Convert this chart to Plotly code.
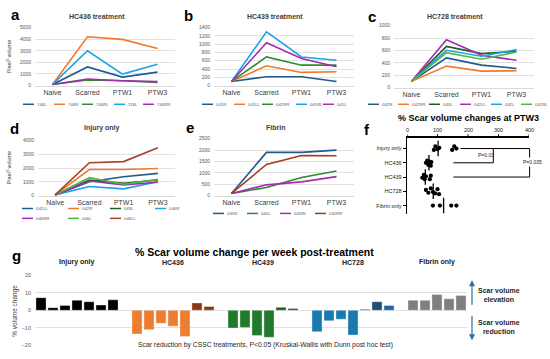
import plotly.graph_objects as go

W, H = 550, 359
def PX(x): return x / W
def PY(y): return 1 - y / H

FONT = "Liberation Sans, Arial, sans-serif"

stages = ["Naive", "Scarred", "PTW1", "PTW3"]

# ---- panel a: HC436 treatment
a_names = ["744L", "744R", "744RL", "118L", "744RR"]
a_744L = [100, 1610, 735, 1160]
a_744R = [100, 4210, 3980, 3190]
a_744RL = [100, 480, 420, 280]
a_118L = [100, 3000, 990, 1840]
a_744RR = [100, 565, 420, 340]

# ---- panel b: HC439 treatment
b_names = ["041R", "041LL", "041RR", "041RL", "041L"]
b_041R = [100, 215, 215, 100]
b_041LL = [100, 477, 318, 334]
b_041RR = [100, 692, 493, 493]
b_041RL = [100, 1297, 692, 612]
b_041L = [100, 1034, 652, 453]

# ---- panel c: HC728 treatment
c_names = ["042R", "042RR", "043L", "042LL", "042L", "042RL"]
c_042R = [100, 479, 362, 309]
c_042RR = [100, 346, 266, 271]
c_043L = [100, 665, 548, 585]
c_042LL = [100, 771, 521, 441]
c_042L = [100, 601, 505, 612]
c_042RL = [100, 564, 457, 574]

# ---- panel d: Injury only
d_names = ["042LL", "042R", "043L", "046R", "046RR", "046L", "046LL"]
d_042LL = [60, 1020, 1380, 1620]
d_042R = [60, 1900, 1900, 1980]
d_043L = [60, 1140, 900, 1140]
d_046R = [60, 670, 500, 1020]
d_046RR = [60, 1070, 790, 980]
d_046L = [60, 1310, 830, 1190]
d_046LL = [60, 2400, 2480, 3480]

# ---- panel e: Fibrin
e_names = ["045R", "045L", "045RL", "045RR"]
e_045R = [100, 1900, 1900, 2000]
e_045L = [100, 360, 795, 1080]
e_045RL = [100, 477, 607, 838]
e_045RR = [100, 1370, 1760, 1750]

# ---- panel f: % scar volume change at PTW3
f_groups = ["Injury only", "HC436", "HC439", "HC728", "Fibrin only"]
f_ticks = [0, 100, 200, 300, 400]
f_injury = [88, 93, 100, 106, 148, 155, 162]
f_hc436 = [62, 66, 70, 72, 75, 78, 80]
f_hc439 = [50, 55, 58, 62, 75, 78]
f_hc728 = [62, 70, 78, 85, 92, 100, 105]
f_fibrin = [85, 108, 145, 162]
f_medians = [102, 72, 60, 86, 120]
f_jit_injury = [0.1, -0.15, 0.05, -0.05, 0.1, -0.15, 0.0]
f_jit_hc436 = [0.0, -0.15, 0.15, -0.1, 0.1, 0.2, -0.05]
f_jit_hc439 = [0.05, -0.15, 0.15, -0.05, 0.15, -0.1]
f_jit_hc728 = [-0.1, 0.1, -0.2, 0.05, 0.15, -0.15, 0.2]
f_jit_fibrin = [0.0, 0.0, 0.0, 0.0]

# ---- panel g: % scar volume change per week post-treatment
g_groups = ["Injury only", "HC436", "HC439", "HC728", "Fibrin only"]
g_injury = [7.2, 1.5, 2.8, 5.7, 4.9, 3.0, 6.0]
g_hc436 = [-13.6, -11.1, -7.5, -9.1, -15.0, 4.2, 2.2]
g_hc439 = [-10.2, -9.8, -14.5, -15.5, 1.7, 1.0]
g_hc728 = [-12.3, -6.0, -5.1, -14.2, 0.6, 4.9, 2.8]
g_fibrin = [5.8, 5.7, 9.1, 6.6, 8.5]

# ---------------- styles ----------------
DB, OR, GR, LB, PU = "#215B8C", "#F07A2A", "#2E8B2E", "#1AA3E8", "#A62BB0"
DG, LG, BR, RB = "#1B5E20", "#4DB848", "#A5432A", "#A8381C"
GRID = "#D9D9D9"

fig = go.Figure()

panels = [
    ("", a_names, [a_744L, a_744R, a_744RL, a_118L, a_744RR], [DB, OR, GR, LB, PU], (35, 175), (84, 25), 5000, 1000),
    ("2", b_names, [b_041R, b_041LL, b_041RR, b_041RL, b_041L], [DB, OR, GR, LB, PU], (214, 354), (84, 25), 1400, 200),
    ("3", c_names, [c_042R, c_042RR, c_043L, c_042LL, c_042L, c_042RL], [DB, OR, DG, PU, LB, LG], (394, 534), (86, 23), 1000, 200),
    ("4", d_names, [d_042LL, d_042R, d_043L, d_046R, d_046RR, d_046L, d_046LL], [DB, OR, DG, LB, PU, LG, BR], (38, 175), (196, 140), 4000, 1000),
    ("5", e_names, [e_045R, e_045L, e_045RL, e_045RR], [DB, GR, PU, RB], (214, 354), (196, 138), 2500, 500),
]

layout_axes = {}
for n, names, series, cols, xd, yd, ymax, dt in panels:
    for nm, s, c in zip(names, series, cols):
        fig.add_trace(go.Scatter(x=stages, y=s, name=nm, mode="lines",
                                 line=dict(color=c, width=1.6),
                                 xaxis="x" + n, yaxis="y" + n, showlegend=False))
    layout_axes["xaxis" + n] = dict(domain=[PX(xd[0]), PX(xd[1])], type="category",
                                    categoryorder="array", categoryarray=stages, range=[-0.5, 3.5],
                                    showgrid=False, showline=True, linecolor=GRID, linewidth=1,
                                    ticks="", tickfont=dict(size=7, color="#404040"),
                                    anchor="y" + n, zeroline=False)
    layout_axes["yaxis" + n] = dict(domain=[PY(yd[0]), PY(yd[1])], range=[0, ymax], dtick=dt,
                                    showgrid=True, gridcolor=GRID, gridwidth=0.8, zeroline=False,
                                    showline=False, ticks="", tickfont=dict(size=5, color="#595959"),
                                    anchor="x" + n, ticklabelstandoff=3)

# ---- panel f
f_vals = [f_injury, f_hc436, f_hc439, f_hc728, f_fibrin]
f_jits = [f_jit_injury, f_jit_hc436, f_jit_hc439, f_jit_hc728, f_jit_fibrin]
for i, (vals, jit) in enumerate(zip(f_vals, f_jits)):
    fig.add_trace(go.Scatter(x=vals, y=[i + j for j in jit], mode="markers",
                             marker=dict(color="black", size=4.2),
                             xaxis="x6", yaxis="y6", showlegend=False))
fig.add_trace(go.Scatter(x=f_medians, y=list(range(len(f_groups))), mode="markers",
                         marker=dict(symbol="line-ns", size=11, line=dict(color="black", width=1.3)),
                         xaxis="x6", yaxis="y6", showlegend=False))
layout_axes["xaxis6"] = dict(domain=[PX(407), PX(529)], range=[0, 400], side="top",
                             anchor="y6", showline=True, linecolor="black", linewidth=1.3,
                             ticks="", showticklabels=False,
                             showgrid=False, zeroline=False)
layout_axes["yaxis6"] = dict(domain=[PY(215), PY(137)], range=[4.62, -0.76],
                             tickvals=list(range(len(f_groups))), ticktext=f_groups,
                             anchor="x6", showline=True, linecolor="black", linewidth=1.3,
                             ticks="outside", ticklen=3, tickwidth=1, tickcolor="black",
                             showgrid=False, zeroline=False, tickfont=dict(size=5.5, color="#222"))

# ---- panel g
g_vals = [g_injury, g_hc436, g_hc439, g_hc728, g_fibrin]
g_cols = [
    ["#000000"] * 7,
    ["#ED7D31"] * 5 + ["#8A3A12"] * 2,
    ["#1F7A2D"] * 4 + ["#1E5E20"] * 2,
    ["#1A7AB0"] * 4 + ["#2E6FA8", "#1F4E79", "#2463A0"],
    ["#7F7F7F"] * 5,
]
start = 0
g_centers = []
for vals, cols in zip(g_vals, g_cols):
    pos = list(range(start, start + len(vals)))
    fig.add_trace(go.Bar(x=pos, y=vals, marker=dict(color=cols, line=dict(color="rgba(255,255,255,0.45)", width=0.8)),
                         width=0.84, xaxis="x7", yaxis="y7", showlegend=False))
    g_centers.append((pos[0] + pos[-1]) / 2)
    start += len(vals) + 1
layout_axes["xaxis7"] = dict(domain=[PX(35), PX(467)], range=[-0.5, start - 1.5], anchor="y7",
                             showticklabels=False, showgrid=False, zeroline=False, showline=False, ticks="")
layout_axes["yaxis7"] = dict(domain=[PY(348), PY(277)], range=[-20, 20], dtick=10, anchor="x7",
                             showgrid=True, gridcolor=GRID, gridwidth=0.8, zeroline=False, showline=False,
                             ticks="", tickfont=dict(size=5.5, color="#595959"), ticklabelstandoff=3)

ann = []
shapes = []

def text(x, y, t, size, bold=False, color="#222", **kw):
    ann.append(dict(x=PX(x), y=PY(y), xref="paper", yref="paper", text=("<b>%s</b>" % t) if bold else t,
                    showarrow=False, font=dict(size=size, color=color, family=FONT),
                    xanchor=kw.pop("xanchor", "center"), yanchor=kw.pop("yanchor", "middle"), **kw))

# top axis ticks of panel f (placed through the x6 data scale)
for t in f_ticks:
    shapes.append(dict(type="line", xref="x6", yref="paper", x0=t, x1=t, y0=PY(137), y1=PY(133.5),
                       line=dict(color="black", width=1)))
    ann.append(dict(x=t, y=PY(129), xref="x6", yref="paper", text=str(t), showarrow=False,
                    font=dict(size=5.5, color="#222", family=FONT)))

for letter, x, y in [("a", 15, 12), ("b", 188, 13), ("c", 372, 14), ("d", 14, 128), ("e", 190, 127), ("f", 367, 129), ("g", 16, 257)]:
    text(x, y, letter, 15, bold=True, color="#000")

text(97, 14, "HC436 treatment", 7, bold=True, color="#404040")
text(275, 14, "HC439 treatment", 7, bold=True, color="#404040")
text(455, 14, "HC728 treatment", 7, bold=True, color="#404040")
text(102, 127, "Injury only", 7, bold=True, color="#404040")
text(275, 127, "Fibrin", 7, bold=True, color="#404040")
text(468, 117, "% Scar volume changes at PTW3", 9, bold=True, color="#000")
text(254, 253, "% Scar volume change per week post-treatment", 10.5, bold=True, color="#000")

text(9, 55, "Pixel<sup>3</sup> volume", 5.5, color="#404040", textangle=-90)
text(9, 168, "Pixel<sup>3</sup> volume", 5.5, color="#404040", textangle=-90)
text(15, 313, "% volume change", 6.5, color="#404040", textangle=-90)

def legend(names, cols, xs, y):
    for nm, c, x in zip(names, cols, xs):
        shapes.append(dict(type="line", xref="paper", yref="paper", x0=PX(x), x1=PX(x + 11),
                           y0=PY(y), y1=PY(y), line=dict(color=c, width=1.5)))
        text(x + 12, y, nm, 4.3, color="#595959", xanchor="left")

legend(a_names, panels[0][3], [23, 54, 82, 114, 143], 103)
legend(b_names, panels[1][3], [202, 234, 262, 296, 323], 103)
legend(c_names, panels[2][3], [368, 398, 429, 460, 491, 521], 103)
legend(d_names[:4], panels[3][3][:4], [22, 68, 110, 155], 209)
legend(d_names[4:], panels[3][3][4:], [22, 68, 110], 219)
legend(e_names, panels[4][3], [213, 247, 280, 315], 214)

def fx(v): return 407 + v * 122 / 400
def fy(i): return 148 + 14.5 * i
bk = dict(type="line", xref="paper", yref="paper", line=dict(color="black", width=1))
def seg(x0, y0, x1, y1):
    shapes.append(dict(bk, x0=PX(x0), y0=PY(y0), x1=PX(x1), y1=PY(y1)))
seg(fx(175), fy(0), fx(283), fy(0)); seg(fx(283), fy(0), fx(283), fy(1)); seg(fx(152), fy(1), fx(283), fy(1))
seg(fx(241), fy(0), fx(402), fy(0)); seg(fx(402), fy(0), fx(402), fy(2)); seg(fx(152), fy(2), fx(402), fy(2))
text(fx(259), 155, "P=0.03", 5, color="#222")
text(532, 162, "P=0.035", 5, color="#222", bgcolor="white")

for g, c in zip(g_groups, g_centers):
    ann.append(dict(x=c, y=PY(270), xref="x7", yref="paper", text="<b>%s</b>" % g, showarrow=False,
                    font=dict(size=7, color="#222", family=FONT)))
text(265, 348, "Scar reduction by CSSC treatments, P<0.05 (Kruskal-Wallis with Dunn post hoc test)", 6.8,
     color="#262626", bgcolor="white")
ann.append(dict(x=PX(472), y=PY(282), xref="paper", yref="paper", ax=0, ay=26, text="", showarrow=True,
                arrowhead=2, arrowsize=1, arrowwidth=1.2, arrowcolor="#2A6F9E"))
ann.append(dict(x=PX(472), y=PY(343), xref="paper", yref="paper", ax=0, ay=-26, text="", showarrow=True,
                arrowhead=2, arrowsize=1, arrowwidth=1.2, arrowcolor="#2A6F9E"))
text(499, 297, "Scar volume<br>elevation", 7, bold=True, color="#262626")
text(499, 329, "Scar volume<br>reduction", 7, bold=True, color="#262626")

fig.update_layout(width=W, height=H, margin=dict(l=0, r=0, t=0, b=0), autosize=False,
                  paper_bgcolor="white", plot_bgcolor="white", showlegend=False,
                  font=dict(family=FONT), annotations=ann, shapes=shapes, bargap=0,
                  **layout_axes)

fig.write_html("out.html", config={"displayModeBar": False, "staticPlot": True},
               post_script="document.body.style.margin='0';document.body.style.overflow='hidden';")
